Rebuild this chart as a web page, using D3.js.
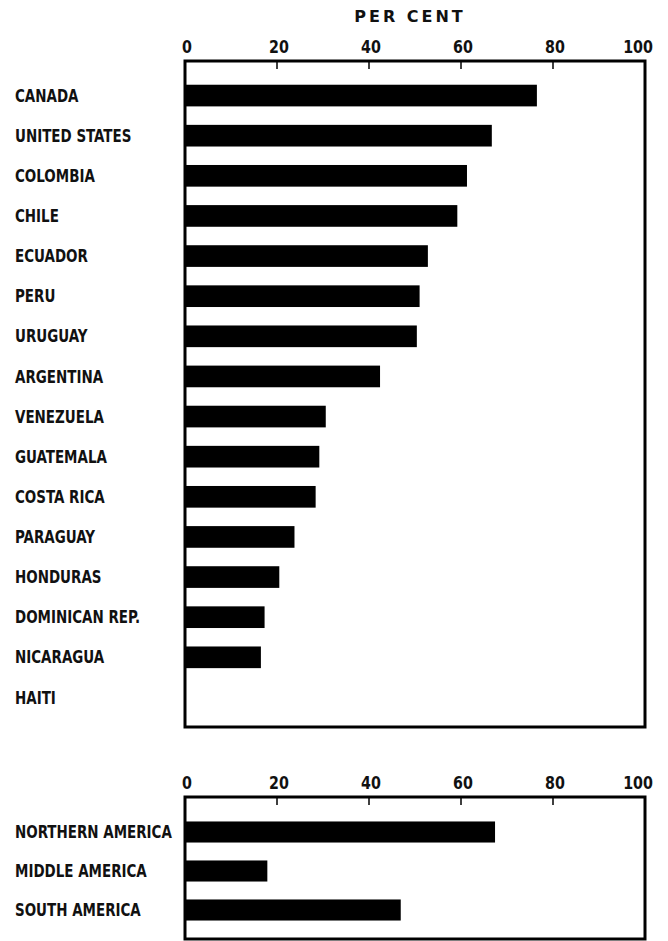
<!DOCTYPE html>
<html>

<head>
  <title>Per cent by country, the Americas</title>
  <script src="https://d3js.org/d3.v7.min.js" charset="utf-8"></script>
  <style type="text/css">
    body {
      margin: 0;
      background: white;
    }

    .lbl {
      font-family: "DejaVu Sans Condensed", "Liberation Sans Narrow", sans-serif;
      font-weight: bold;
      font-size: 17px;
      fill: #111;
    }

    .tick-lbl {
      font-family: "DejaVu Sans Condensed", "Liberation Sans Narrow", sans-serif;
      font-weight: bold;
      font-size: 18px;
      fill: #111;
    }

    .title {
      font-family: "DejaVu Sans", "Liberation Sans", sans-serif;
      font-weight: bold;
      font-size: 16px;
      letter-spacing: 3px;
      fill: #111;
    }
  </style>
</head>

<body>
  <div id="chart"></div>
  <script>
    // countries, top panel
    var countries = ["CANADA", "UNITED STATES", "COLOMBIA", "CHILE", "ECUADOR", "PERU", "URUGUAY",
      "ARGENTINA", "VENEZUELA", "GUATEMALA", "COSTA RICA", "PARAGUAY", "HONDURAS",
      "DOMINICAN REP.", "NICARAGUA", "HAITI"];
    var countryValues = [76.5, 66.7, 61.3, 59.2, 52.8, 51.0, 50.4, 42.4, 30.6, 29.2, 28.4, 23.8, 20.5, 17.3, 16.5, 0];

    // regions, bottom panel
    var regions = ["NORTHERN AMERICA", "MIDDLE AMERICA", "SOUTH AMERICA"];
    var regionValues = [67.4, 17.9, 46.9];

    var tickValues = [0, 20, 40, 60, 80, 100];
    var axisTitle = "PER CENT";

    var width = 668;
    var height = 941;
    var squeeze = 0.88; // condensed look of the old typeface

    var svg = d3.select("#chart").append("svg")
      .attr("width", width)
      .attr("height", height);

    var x = d3.scaleLinear().domain([0, 100]).range([185, 645]);

    svg.append("text")
      .attr("class", "title")
      .attr("x", 410)
      .attr("y", 22)
      .attr("text-anchor", "middle")
      .text(axisTitle);

    function drawPanel(names, values, frameTop, frameBottom, rowTop, rowBottom) {
      var y = d3.scaleBand()
        .domain(names)
        .range([rowTop, rowBottom])
        .paddingInner(0.46)
        .paddingOuter(0.23);

      var g = svg.append("g");

      // tick labels above the frame
      g.selectAll(".tick-lbl").data(tickValues).enter().append("text")
        .attr("class", "tick-lbl")
        .attr("text-anchor", "middle")
        .attr("transform", function(d) {
          var tx = d == 100 ? x(d) - 7 : x(d) + 2;
          return "translate(" + tx + "," + (frameTop - 8) + ") scale(" + squeeze + ",1)";
        })
        .text(function(d) { return d; });

      // bars
      g.selectAll("rect.bar").data(values).enter().append("rect")
        .attr("class", "bar")
        .attr("x", x(0))
        .attr("y", function(d, i) { return y(names[i]); })
        .attr("width", function(d) { return x(d) - x(0); })
        .attr("height", y.bandwidth())
        .attr("fill", "#000");

      // row labels
      g.selectAll("text.lbl").data(names).enter().append("text")
        .attr("class", "lbl")
        .attr("dy", "0.36em")
        .attr("transform", function(d) {
          return "translate(15," + (y(d) + y.bandwidth() / 2) + ") scale(" + squeeze + ",1)";
        })
        .text(function(d) { return d; });

      // frame
      g.append("rect")
        .attr("x", x(0))
        .attr("y", frameTop)
        .attr("width", x(100) - x(0))
        .attr("height", frameBottom - frameTop)
        .attr("fill", "none")
        .attr("stroke", "#000")
        .attr("stroke-width", 3);

      // inward ticks on top edge
      g.selectAll("line.tk").data(tickValues.slice(1, -1)).enter().append("line")
        .attr("class", "tk")
        .attr("x1", function(d) { return x(d); })
        .attr("x2", function(d) { return x(d); })
        .attr("y1", frameTop)
        .attr("y2", frameTop + 8)
        .attr("stroke", "#000")
        .attr("stroke-width", 1.5);
    }

    drawPanel(countries, countryValues, 61, 727, 75.5, 717.5);
    drawPanel(regions, regionValues, 797, 939, 812.5, 929.5);
  </script>
</body>

</html>
